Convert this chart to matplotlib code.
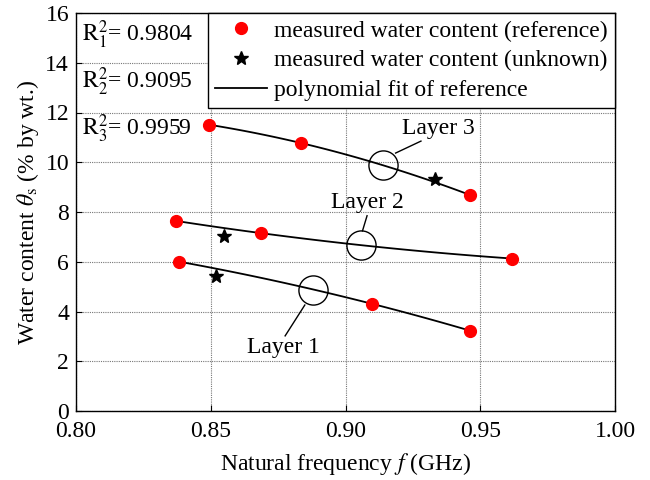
import numpy as np
import matplotlib
matplotlib.use("Agg")
import matplotlib.pyplot as plt
from matplotlib.lines import Line2D

plt.rcParams["font.family"] = ["Liberation Serif", "DejaVu Serif"]
plt.rcParams["mathtext.fontset"] = "stix"

# Reference measurements per layer (frequency in GHz, water content in % by wt.)
L1_FREQ = [0.8384, 0.9098, 0.9462]
L1_WATER = [6.00, 4.31, 3.23]
L2_FREQ = [0.8372, 0.8687, 0.9617]
L2_WATER = [7.64, 7.15, 6.13]
L3_FREQ = [0.8493, 0.8836, 0.9463]
L3_WATER = [11.51, 10.77, 8.68]

# Unknown-sample measurements, one per layer
UNK_FREQ = [0.8519, 0.8549, 0.9331]
UNK_WATER = [5.42, 7.04, 9.33]

R2_VALUES = ["0.9804", "0.9095", "0.9959"]

# Layer callouts: circle centre, label position, leader line ends
LAYER_NAMES = ["Layer 1", "Layer 2", "Layer 3"]
CIRCLE_XY = [(0.8878, 4.86), (0.9058, 6.68), (0.9140, 9.87)]
LABEL_XY = [(0.8769, 2.55), (0.9080, 8.37), (0.9344, 11.37)]
LEADER = [((0.8849, 4.26), (0.8776, 3.02)),
          ((0.9063, 7.24), (0.9080, 7.85)),
          ((0.9186, 10.37), (0.9280, 10.85))]

FS = 17

fig = plt.figure(figsize=(6.5, 4.8), dpi=100)
ax = fig.add_axes([76 / 650, 69 / 480, 539 / 650, 398 / 480])

layers = [(L1_FREQ, L1_WATER), (L2_FREQ, L2_WATER), (L3_FREQ, L3_WATER)]
for freq, water in layers:
    coef = np.polyfit(freq, water, 2)
    xs = np.linspace(min(freq), max(freq), 100)
    ax.plot(xs, np.polyval(coef, xs), color="black", lw=1.3, zorder=3)
    ax.plot(freq, water, "o", color="#ff0000", ms=8.5, mec="#ff0000", zorder=4)

ax.plot(UNK_FREQ, UNK_WATER, "*", color="black", ms=10, zorder=5, lw=0)

for name, (cx, cy), (tx, ty), (p0, p1) in zip(LAYER_NAMES, CIRCLE_XY, LABEL_XY, LEADER):
    ax.plot([cx], [cy], "o", ms=21, mfc="none", mec="black", mew=1.0, zorder=4)
    ax.plot([p0[0], p1[0]], [p0[1], p1[1]], color="black", lw=1.0, zorder=4)
    ax.text(tx, ty, name, fontsize=FS, ha="center", va="center", zorder=6)

for i, val in enumerate(R2_VALUES):
    ax.text(0.8024, 15.13 - i * 1.89, r"$\mathrm{R}_{%d}^{2}$= %s" % (i + 1, val),
            fontsize=FS, ha="left", va="center", zorder=6)

ax.set_xlim(0.80, 1.00)
ax.set_ylim(0, 16)
ax.set_xticks([0.80, 0.85, 0.90, 0.95, 1.00])
ax.set_xticklabels(["0.80", "0.85", "0.90", "0.95", "1.00"])
ax.set_yticks(range(0, 17, 2))
ax.tick_params(direction="in", length=4, width=0.8, labelsize=FS)
ax.tick_params(axis="x", pad=7)
ax.tick_params(axis="y", pad=5)
ax.grid(True, color="#777777", linestyle=(0, (1, 1)), lw=0.8)
ax.set_axisbelow(True)
for sp in ax.spines.values():
    sp.set_linewidth(1.0)

ax.set_xlabel(r"Natural frequency $f$ (GHz)", fontsize=FS, labelpad=7)
ax.set_ylabel(r"Water content $\theta_{\mathrm{s}}$ (% by wt.)", fontsize=FS, labelpad=3)

handles = [
    Line2D([], [], ls="none", marker="o", color="#ff0000", ms=8.5),
    Line2D([], [], ls="none", marker="*", color="black", ms=10),
    Line2D([], [], color="black", lw=1.3),
]
labels = ["measured water content (reference)",
          "measured water content (unknown)",
          "polynomial fit of reference"]
leg = ax.legend(handles, labels, loc="upper right", bbox_to_anchor=(1, 1),
                borderaxespad=0, fontsize=FS, fancybox=False, edgecolor="black",
                framealpha=1, borderpad=0.3, labelspacing=0.35,
                handlelength=2.2, handletextpad=0.3)
leg.get_frame().set_linewidth(1.0)
leg.set_zorder(7)

fig.savefig("out.png", dpi=100)
